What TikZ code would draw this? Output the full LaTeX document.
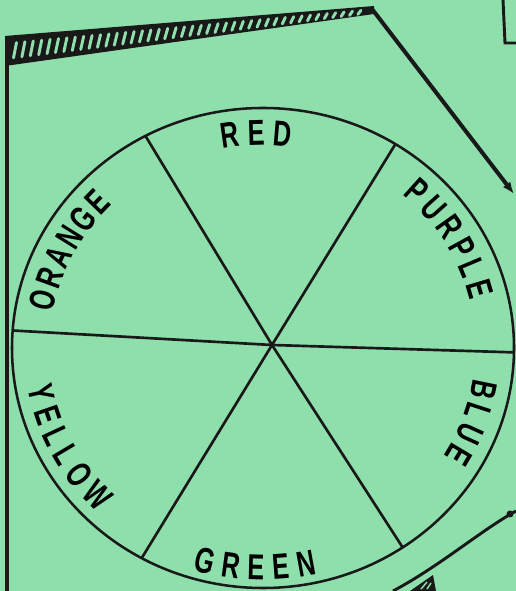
\documentclass[tikz,border=0pt]{standalone}
\usepackage{fontspec}
\newfontfamily\hand[FakeStretch=0.7]{Liberation Sans}
\usetikzlibrary{decorations.text, shapes.geometric, arrows.meta}
\definecolor{bg}{RGB}{143,223,173}
\definecolor{ink}{RGB}{25,25,25}
\newcommand\lab{\hand\bfseries\fontsize{27pt}{28pt}\selectfont}
\tikzset{
  wheelline/.style={draw=ink, line width=1.9pt},
  spoke/.style={draw=ink, line width=2pt},
  frame/.style={draw=ink, line width=3pt},
  thinframe/.style={draw=ink, line width=2.2pt},
  lbl/.style={decorate, decoration={text along path, text align={fit to path}, text={#1}}},
}
\begin{document}
\begin{tikzpicture}[x=0.75pt,y=0.75pt]
\useasboundingbox (0,0) rectangle (516,591);
\fill[bg] (0,0) rectangle (516,591);
% frame
\fill[ink] (5,555) -- (374,585) -- (374,577) -- (5,525) -- cycle;
\foreach \i in {0,...,41}{
  \pgfmathsetmacro\xx{15+8.4*\i}
  \pgfmathsetmacro\yy{540+40*(\xx-8)/364}
  \pgfmathsetmacro\hh{0.6*(13-10*(\xx-8)/364)}
  \draw[bg, line width=2.2pt, line cap=round] (\xx-1.5,\yy-\hh) -- (\xx+1.5,\yy+\hh);
}
\draw[frame] (7,553) -- (7,0);
\draw[frame, -{Latex[length=9pt,width=7pt]}] (372,582) -- (514,397);
\draw[thinframe] (503,591) -- (505,548) -- (516,548);
\draw[thinframe] (393,0) .. controls (440,25) and (480,60) .. (516,80);
\fill[ink] (510,77) circle[radius=3.5];
\fill[ink] (410,0) -- (433,16) -- (436,0) -- cycle;
\draw[bg, line width=1.1pt] (421,2) -- (427,9) (427,2) -- (431,8);
% wheel
\coordinate (C) at (263,243);
\node[ellipse, wheelline, minimum width=376.5pt, minimum height=360pt, inner sep=0pt, outer sep=0pt] (wheel) at (C) {};
\coordinate (hub) at (272,246);
\foreach \a in {119.9, 57.3, 176.4, 359.1, 240.3, 305.5}
  \draw[spoke] (hub) -- (wheel.\a);
% labels
\path[lbl={|\lab|RED}] (C) ++(101:213 and 203) arc[start angle=101, end angle=82.5, x radius=213, y radius=203];
\path[lbl={|\lab|PURPLE}] (C) ++(49:213 and 203) arc[start angle=49, end angle=13.5, x radius=213, y radius=203];
\path[lbl={|\lab|ORANGE}] (C) ++(170:213 and 203) arc[start angle=170, end angle=135, x radius=213, y radius=203];
\path[lbl={|\lab|BLUE}] (C) ++(-8.5:213 and 203) arc[start angle=-8.5, end angle=-32, x radius=213, y radius=203];
\path[lbl={|\lab|GREEN}] (C) ++(253:241 and 232) arc[start angle=253, end angle=283, x radius=241, y radius=232];
\path[lbl={|\lab|YELLOW}] (C) ++(190:239 and 229) arc[start angle=190, end angle=226, x radius=239, y radius=229];
\end{tikzpicture}
\end{document}
